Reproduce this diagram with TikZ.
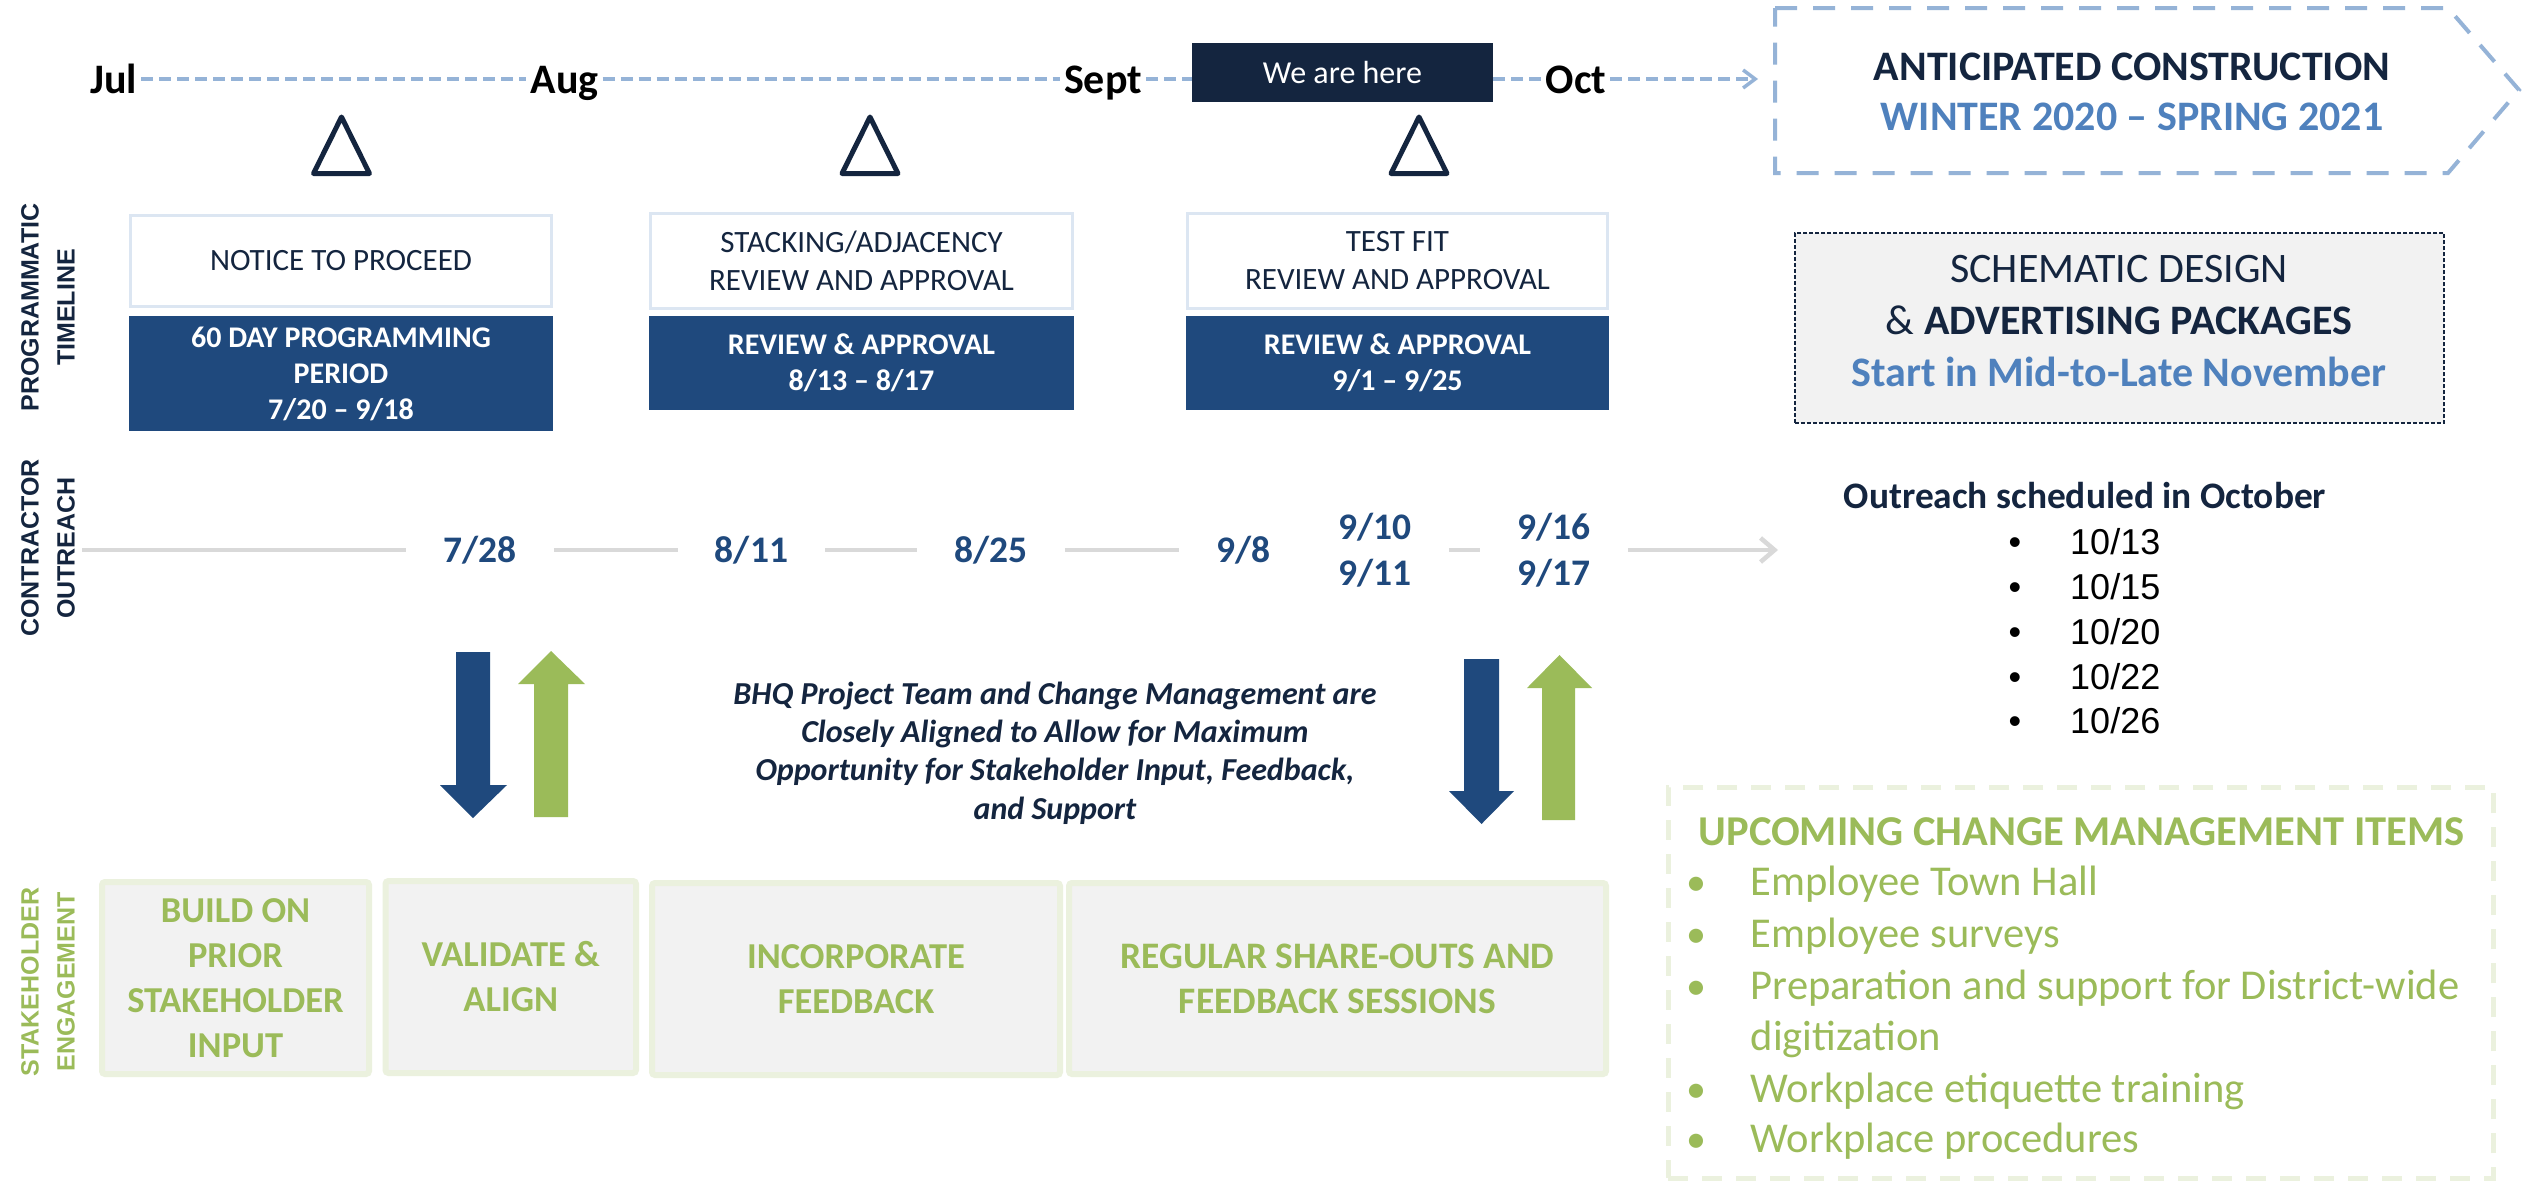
\documentclass[tikz,border=0pt]{standalone}
\usepackage{fontspec}
\setmainfont{Carlito}
\newfontfamily\arialf{Liberation Sans}
\usetikzlibrary{arrows.meta}
\definecolor{navy}{HTML}{14253F}
\definecolor{boxblue}{HTML}{1F497D}
\definecolor{lblue}{HTML}{95B3D7}
\definecolor{midblue}{HTML}{4F81BD}
\definecolor{grn}{HTML}{9BBB59}
\definecolor{lgrn}{HTML}{EBF1DE}
\definecolor{lgray}{HTML}{D9D9D9}
\definecolor{fillgray}{HTML}{F2F2F2}
\definecolor{wborder}{HTML}{DCE6F2}
\begin{document}
\begin{tikzpicture}[x=1pt,y=-1pt,
  monthlbl/.style={anchor=base, inner xsep=4pt, inner ysep=0pt, font=\fontsize{42}{50}\selectfont\bfseries, text=black},
  tldash/.style={draw=lblue, line width=3.5pt, dash pattern=on 12pt off 6pt},
  wbox/.style={draw=wborder, line width=3pt, fill=white, text=navy, align=center, font=\fontsize{31}{38}\selectfont, inner sep=0pt},
  bbox/.style={fill=boxblue, text=white, align=center, font=\fontsize{30}{36}\selectfont\bfseries, inner sep=0pt},
  trimark/.style={draw=navy, line width=5pt, line join=round},
  datenode/.style={text=boxblue, font=\fontsize{37.5}{46}\selectfont\bfseries, align=center, inner xsep=37pt, inner ysep=0pt},
  gline/.style={draw=lgray, line width=4.5pt},
  sbox/.style={draw=lgrn, line width=6pt, fill=fillgray, rounded corners=3pt, text=grn, align=center, font=\fontsize{36.5}{45}\selectfont\bfseries, inner sep=0pt},
  vlab/.style={rotate=90, align=center, inner sep=0pt, font=\arialf\fontsize{25}{36}\selectfont\bfseries},
  chev/.style={draw=lblue, line width=4pt, dash pattern=on 22pt off 16pt},
  obul/.style={anchor=base, inner sep=0pt, font=\arialf\fontsize{36}{44}\selectfont, text=black},
  oitem/.style={anchor=base west, inner sep=0pt, font=\arialf\fontsize{36}{44}\selectfont, text=black},
  cbul/.style={anchor=base, inner sep=0pt, font=\fontsize{40}{48}\selectfont, text=grn},
  citem/.style={anchor=base west, inner sep=0pt, font=\fontsize{42.5}{48}\selectfont, text=grn}
]
\useasboundingbox (0,0) rectangle (2522,1181);
\fill[white] (0,0) rectangle (2522,1181);

% ---------- top timeline ----------
\coordinate (tly) at (0,79);
\node[monthlbl] (jul) at (113.5,93) {Jul};
\node[monthlbl] (aug) at (564.5,93) {Aug};
\node[monthlbl] (sept) at (1103,93) {Sept};
\node[monthlbl] (oct) at (1576,93) {Oct};
\node[fill=navy, text=white, minimum width=301pt, minimum height=59pt, inner sep=0pt, font=\fontsize{32}{38}\selectfont] (here) at (1342.5,72.5) {We are here};
\coordinate (tlend) at (1758,79);
\draw[tldash] (jul.east |- tly) -- (aug.west |- tly);
\draw[tldash] (aug.east |- tly) -- (sept.west |- tly);
\draw[tldash] (sept.east |- tly) -- (here.west |- tly);
\draw[tldash] (here.east |- tly) -- (oct.west |- tly);
\draw[tldash, -{Straight Barb[length=12pt,width=18pt]}] (oct.east |- tly) -- (tlend);

% triangles
\foreach \cx in {341.5,870,1419}{
  \draw[trimark] (\cx,117) -- (\cx+28,173.5) -- (\cx-28,173.5) -- cycle;
}

% ---------- programmatic boxes ----------
\node[wbox, minimum width=421pt, minimum height=91pt] (w1) at (341,261) {NOTICE TO PROCEED};
\node[bbox, minimum width=424pt, minimum height=115pt] (b1) at (341,373.5) {60 DAY PROGRAMMING\\PERIOD\\7/20 – 9/18};
\node[wbox, minimum width=422pt, minimum height=95pt] (w2) at (861.5,261) {STACKING/ADJACENCY\\REVIEW AND APPROVAL};
\node[bbox, minimum width=425pt, minimum height=94pt] (b2) at (861.5,363) {REVIEW \& APPROVAL\\8/13 – 8/17};
\node[wbox, minimum width=420pt, minimum height=95pt] (w3) at (1397.5,261) {TEST FIT\\REVIEW AND APPROVAL};
\node[bbox, minimum width=423pt, minimum height=94pt] (b3) at (1397.5,363) {REVIEW \& APPROVAL\\9/1 – 9/25};

% ---------- anticipated construction ----------
\draw[chev] (1775,8) -- (2448,8) -- (2519,90) -- (2448,173) -- (1775,173) -- cycle;
\node[align=center, inner sep=0pt, font=\fontsize{42}{50}\selectfont\bfseries, text=navy] (antic) at (2132,92) {ANTICIPATED CONSTRUCTION\\\textcolor{midblue}{WINTER 2020 – SPRING 2021}};

% ---------- schematic design ----------
\node[draw=navy, dash pattern=on 4pt off 2pt, line width=1.8pt, fill=fillgray, minimum width=649pt, minimum height=190pt] (sch) at (2119.5,328) {};
\node[align=center, inner sep=0pt, font=\fontsize{42}{52}\selectfont, text=navy] (schtxt) at (2119,321.5) {SCHEMATIC DESIGN\\\& \textbf{ADVERTISING PACKAGES}\\\textcolor{midblue}{\textbf{Start in Mid-to-Late November}}};

% ---------- contractor outreach ----------
\coordinate (cstart) at (82,550);
\coordinate (cend) at (1778,550);
\node[datenode] (d728) at (480,550) {7/28};
\node[datenode] (d811) at (751.5,550) {8/11};
\node[datenode] (d825) at (991,550) {8/25};
\node[datenode] (d98) at (1243.5,550) {9/8};
\node[datenode] (d910) at (1375,550) {9/10\\9/11};
\node[datenode] (d916) at (1554,550) {9/16\\9/17};
\draw[gline] (cstart) -- (d728.west);
\draw[gline] (d728.east) -- (d811.west);
\draw[gline] (d811.east) -- (d825.west);
\draw[gline] (d825.east) -- (d98.west);
\draw[gline] (d910.east) -- (d916.west);
\draw[gline, -{Straight Barb[length=14pt,width=24pt]}] (d916.east) -- (cend);

% outreach list
\node[anchor=base, inner sep=0pt, font=\fontsize{37.4}{44}\selectfont\bfseries, text=navy] (outh) at (2085,508) {Outreach scheduled in October};
\node[obul] (ob1) at (2015,554) {•}; \node[oitem] (oi1) at (2070,554) {10/13};
\node[obul] (ob2) at (2015,599) {•}; \node[oitem] (oi2) at (2070,599) {10/15};
\node[obul] (ob3) at (2015,644) {•}; \node[oitem] (oi3) at (2070,644) {10/20};
\node[obul] (ob4) at (2015,689) {•}; \node[oitem] (oi4) at (2070,689) {10/22};
\node[obul] (ob5) at (2015,733) {•}; \node[oitem] (oi5) at (2070,733) {10/26};

% ---------- block arrows ----------
\fill[boxblue] (456,652) -- (490,652) -- (490,785) -- (507,785) -- (473,818) -- (440,785) -- (456,785) -- cycle;
\fill[grn] (534,817) -- (568,817) -- (568,684) -- (585,684) -- (551,651) -- (518,684) -- (534,684) -- cycle;
\fill[boxblue] (1464,659) -- (1499,659) -- (1499,791) -- (1514,791) -- (1481.5,824) -- (1449,791) -- (1464,791) -- cycle;
\fill[grn] (1542,820) -- (1575,820) -- (1575,688) -- (1592,688) -- (1559.5,655) -- (1527,688) -- (1542,688) -- cycle;

\node[align=center, inner sep=0pt, font=\fontsize{32}{38.3}\selectfont\bfseries\itshape, text=navy] (msg) at (1055,753) {BHQ Project Team and Change Management are\\Closely Aligned to Allow for Maximum\\Opportunity for Stakeholder Input, Feedback,\\and Support};

% ---------- stakeholder engagement ----------
\node[sbox, minimum width=267pt, minimum height=192pt] (s1) at (235.5,978) {BUILD ON\\PRIOR\\STAKEHOLDER\\INPUT};
\node[sbox, minimum width=250.5pt, minimum height=192pt] (s2) at (510.75,977) {VALIDATE \&\\ALIGN};
\node[sbox, minimum width=408pt, minimum height=192pt] (s3) at (856,979) {INCORPORATE\\FEEDBACK};
\node[sbox, minimum width=537pt, minimum height=191pt, font=\fontsize{37.4}{45}\selectfont\bfseries] (s4) at (1337.5,978.5) {REGULAR SHARE-OUTS AND\\FEEDBACK SESSIONS};

% ---------- vertical labels ----------
\node[vlab, text=navy] (vl1) at (48,307.5) {PROGRAMMATIC\\TIMELINE};
\node[vlab, text=navy] (vl2) at (48,548) {CONTRACTOR\\OUTREACH};
\node[vlab, text=grn] (vl3) at (48,982) {STAKEHOLDER\\ENGAGEMENT};

% ---------- change management ----------
\node[draw=lgrn, line width=5pt, dash pattern=on 20pt off 14pt, minimum width=825pt, minimum height=391pt, inner sep=0pt] (cm) at (2080.5,982.5) {};
\node[anchor=base west, inner sep=0pt, font=\fontsize{42.5}{48}\selectfont\bfseries, text=grn] (cmh) at (1698.5,845) {UPCOMING CHANGE MANAGEMENT ITEMS};
\node[cbul] (cb1) at (1696,895.5) {•}; \node[citem] (ci1) at (1750.6,895.5) {Employee Town Hall};
\node[cbul] (cb2) at (1696,947.5) {•}; \node[citem] (ci2) at (1750.6,947.5) {Employee surveys};
\node[cbul] (cb3) at (1696,999.5) {•}; \node[citem] (ci3) at (1750.6,999.5) {Preparation and support for District-wide};
\node[citem] (ci3b) at (1750.6,1050.5) {digitization};
\node[cbul] (cb4) at (1696,1102.5) {•}; \node[citem] (ci4) at (1750.6,1102.5) {Workplace etiquette training};
\node[cbul] (cb5) at (1696,1152.5) {•}; \node[citem] (ci5) at (1750.6,1152.5) {Workplace procedures};
\end{tikzpicture}
\end{document}
